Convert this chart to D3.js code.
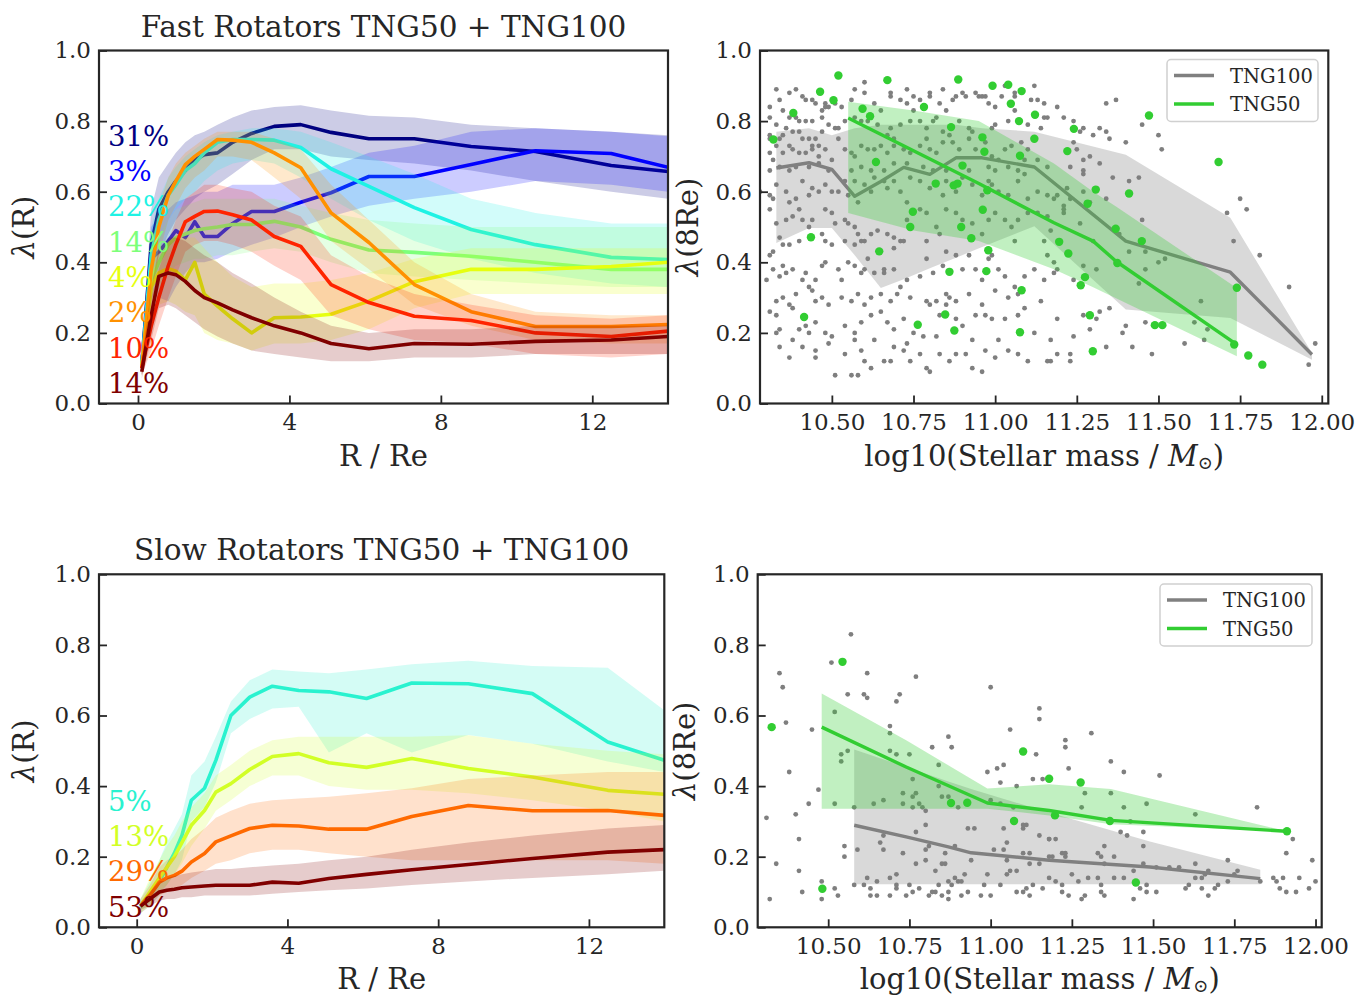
<!DOCTYPE html>
<html>
<head>
<meta charset="utf-8">
<title>Fast and Slow Rotators TNG50 + TNG100</title>
<script src="https://cdn.jsdelivr.net/npm/d3@7"></script>
<style>
  body { margin: 0; background: #fff; }
  text { font-family: "DejaVu Serif", serif; fill: #262626; }
</style>
</head>
<body>
<script>
// ---------- data: lambda(R) profiles, fast rotators ----------
var rFast = [0.1, 0.35, 0.55, 0.8, 1.0, 1.25, 1.5, 1.75, 2.1, 2.5, 3.0, 3.6, 4.3, 5.1, 6.1, 7.3, 8.8, 10.5, 12.5, 14.0];
var fastLabels = ["31%", "3%", "22%", "14%", "4%", "2%", "10%", "14%"];
var fastColors = ["#000080", "#0000ff", "#1ff2e4", "#7dff7a", "#e6ff10", "#ff9100", "#ff2400", "#800000"];

var navyMed = [0.11,0.45,0.55,0.60,0.63,0.66,0.69,0.705,0.71,0.74,0.765,0.785,0.79,0.768,0.75,0.75,0.728,0.714,0.674,0.657];
var navyLo  = [0.08,0.33,0.42,0.48,0.52,0.55,0.58,0.60,0.62,0.65,0.69,0.72,0.72,0.70,0.69,0.68,0.66,0.63,0.60,0.58];
var navyHi  = [0.15,0.55,0.64,0.68,0.71,0.74,0.76,0.77,0.79,0.81,0.83,0.84,0.845,0.83,0.815,0.81,0.79,0.78,0.77,0.76];

var blueMed = [0.11,0.41,0.43,0.46,0.49,0.47,0.515,0.473,0.473,0.51,0.544,0.544,0.57,0.597,0.643,0.643,0.677,0.716,0.708,0.669];
var blueLo  = [0.08,0.30,0.30,0.29,0.33,0.37,0.40,0.40,0.41,0.43,0.45,0.47,0.50,0.53,0.56,0.58,0.60,0.63,0.62,0.60];
var blueHi  = [0.15,0.50,0.53,0.55,0.57,0.58,0.59,0.60,0.60,0.62,0.62,0.62,0.64,0.67,0.71,0.73,0.77,0.78,0.77,0.757];

var cyanMed = [0.11,0.42,0.52,0.59,0.62,0.66,0.68,0.71,0.74,0.748,0.748,0.746,0.725,0.665,0.615,0.555,0.493,0.45,0.414,0.408];
var cyanLo  = [0.09,0.34,0.44,0.52,0.55,0.58,0.60,0.63,0.66,0.68,0.69,0.68,0.64,0.58,0.52,0.46,0.41,0.37,0.34,0.33];
var cyanHi  = [0.14,0.50,0.58,0.64,0.67,0.70,0.72,0.74,0.76,0.77,0.78,0.78,0.77,0.74,0.70,0.65,0.58,0.54,0.51,0.51];

var lgreenMed = [0.11,0.35,0.40,0.45,0.47,0.48,0.49,0.495,0.50,0.507,0.507,0.516,0.50,0.465,0.435,0.428,0.417,0.40,0.38,0.38];
var lgreenLo  = [0.08,0.28,0.33,0.37,0.39,0.40,0.41,0.41,0.42,0.42,0.43,0.44,0.43,0.40,0.37,0.36,0.35,0.34,0.33,0.33];
var lgreenHi  = [0.14,0.42,0.47,0.52,0.55,0.56,0.57,0.58,0.58,0.58,0.58,0.58,0.56,0.54,0.52,0.51,0.50,0.50,0.50,0.50];

var yellowMed = [0.10,0.33,0.37,0.382,0.375,0.35,0.40,0.31,0.276,0.24,0.20,0.243,0.245,0.253,0.29,0.345,0.38,0.38,0.388,0.40];
var yellowLo  = [0.08,0.25,0.28,0.29,0.28,0.26,0.25,0.20,0.18,0.17,0.15,0.17,0.17,0.18,0.21,0.27,0.31,0.31,0.31,0.31];
var yellowHi  = [0.13,0.40,0.44,0.46,0.47,0.47,0.47,0.44,0.40,0.36,0.33,0.34,0.34,0.35,0.37,0.41,0.44,0.44,0.44,0.44];

var orangeMed = [0.10,0.38,0.50,0.59,0.63,0.677,0.70,0.72,0.748,0.746,0.74,0.71,0.668,0.54,0.456,0.337,0.26,0.218,0.218,0.224];
var orangeLo  = [0.08,0.30,0.42,0.52,0.56,0.61,0.64,0.66,0.70,0.70,0.69,0.64,0.58,0.46,0.38,0.28,0.22,0.18,0.17,0.17];
var orangeHi  = [0.13,0.45,0.56,0.64,0.68,0.71,0.73,0.75,0.77,0.77,0.77,0.75,0.72,0.62,0.52,0.40,0.31,0.26,0.25,0.25];

var redMed = [0.10,0.22,0.30,0.39,0.45,0.515,0.53,0.544,0.545,0.535,0.52,0.473,0.445,0.337,0.286,0.247,0.235,0.20,0.19,0.205];
var redLo  = [0.08,0.15,0.22,0.30,0.36,0.43,0.45,0.46,0.46,0.45,0.43,0.39,0.35,0.25,0.21,0.18,0.17,0.14,0.13,0.14];
var redHi  = [0.13,0.30,0.38,0.46,0.52,0.58,0.60,0.62,0.62,0.61,0.60,0.56,0.53,0.42,0.36,0.31,0.28,0.25,0.24,0.25];

var maroonMed = [0.09,0.25,0.36,0.37,0.365,0.346,0.32,0.30,0.285,0.265,0.243,0.22,0.20,0.17,0.155,0.17,0.168,0.176,0.18,0.19];
var maroonLo  = [0.07,0.18,0.27,0.28,0.27,0.25,0.23,0.21,0.19,0.17,0.15,0.14,0.13,0.12,0.12,0.13,0.13,0.14,0.14,0.14];
var maroonHi  = [0.12,0.33,0.44,0.47,0.47,0.46,0.44,0.42,0.40,0.37,0.34,0.30,0.26,0.22,0.20,0.21,0.21,0.22,0.22,0.22];

// ---------- data: lambda(R) profiles, slow rotators ----------
var rSlow = [0.1, 0.35, 0.6, 0.8, 1.0, 1.2, 1.45, 1.8, 2.1, 2.5, 3.0, 3.6, 4.3, 5.1, 6.1, 7.3, 8.8, 10.5, 12.5, 14.0];
var slowLabels = ["5%", "13%", "29%", "53%"];
var slowColors = ["#29f2cf", "#d2ff26", "#ff6a00", "#800000"];

var turqMed = [0.057,0.09,0.13,0.17,0.21,0.26,0.36,0.394,0.473,0.60,0.652,0.683,0.671,0.667,0.648,0.692,0.69,0.662,0.525,0.473];
var turqLo  = [0.04,0.06,0.09,0.12,0.15,0.19,0.30,0.34,0.41,0.55,0.59,0.62,0.625,0.495,0.55,0.495,0.545,0.52,0.47,0.44];
var turqHi  = [0.08,0.13,0.19,0.24,0.28,0.32,0.43,0.47,0.54,0.64,0.70,0.73,0.725,0.72,0.73,0.745,0.755,0.74,0.735,0.615];

var ygMed = [0.06,0.10,0.14,0.17,0.20,0.24,0.289,0.331,0.383,0.407,0.447,0.484,0.492,0.466,0.453,0.478,0.45,0.426,0.388,0.377];
var ygLo  = [0.04,0.07,0.10,0.12,0.15,0.18,0.23,0.28,0.33,0.36,0.40,0.43,0.43,0.40,0.39,0.39,0.38,0.36,0.33,0.30];
var ygHi  = [0.08,0.14,0.19,0.23,0.26,0.30,0.34,0.38,0.43,0.46,0.50,0.53,0.54,0.54,0.54,0.54,0.544,0.52,0.50,0.49];

var dorangeMed = [0.06,0.09,0.128,0.14,0.147,0.159,0.185,0.209,0.242,0.259,0.28,0.289,0.287,0.278,0.278,0.314,0.345,0.33,0.331,0.317];
var dorangeLo  = [0.04,0.06,0.09,0.10,0.11,0.12,0.14,0.16,0.18,0.19,0.21,0.22,0.22,0.21,0.20,0.19,0.19,0.19,0.19,0.18];
var dorangeHi  = [0.08,0.12,0.17,0.19,0.20,0.22,0.25,0.28,0.31,0.33,0.35,0.36,0.365,0.37,0.38,0.394,0.42,0.43,0.44,0.44];

var dmaroonMed = [0.06,0.08,0.10,0.105,0.108,0.112,0.114,0.117,0.119,0.119,0.119,0.128,0.125,0.138,0.15,0.163,0.178,0.195,0.213,0.22];
var dmaroonLo  = [0.05,0.06,0.075,0.08,0.08,0.085,0.085,0.09,0.09,0.09,0.09,0.095,0.10,0.105,0.11,0.12,0.13,0.14,0.15,0.16];
var dmaroonHi  = [0.07,0.10,0.13,0.14,0.145,0.15,0.155,0.16,0.165,0.165,0.17,0.175,0.18,0.19,0.20,0.22,0.24,0.26,0.28,0.29];

// ---------- data: lambda(8Re) vs stellar mass, fast rotators ----------
var fastGreyMass = [10.33,10.43,10.50,10.57,10.65,10.72,10.80,10.88,10.96,11.12,11.40,11.72,11.97];
var fastGreyMed  = [0.667,0.682,0.663,0.587,0.629,0.669,0.649,0.696,0.696,0.67,0.46,0.372,0.139];
var fastGreyLo   = [0.455,0.497,0.497,0.42,0.327,0.352,0.383,0.413,0.443,0.502,0.266,0.242,0.124];
var fastGreyHi   = [0.77,0.78,0.76,0.78,0.79,0.79,0.79,0.79,0.78,0.77,0.705,0.526,0.143];

var fastGreenMass = [10.55,10.75,10.95,11.18,11.30,11.37,11.74];
var fastGreenMed  = [0.809,0.716,0.623,0.512,0.46,0.403,0.167];
var fastGreenLo   = [0.54,0.49,0.46,0.38,0.329,0.298,0.134];
var fastGreenHi   = [0.855,0.83,0.80,0.68,0.60,0.558,0.327];

var fastTng50Pts = [[10.52,0.929],[10.67,0.916],[10.887,0.918],[10.464,0.883],[10.505,0.859],[10.992,0.90],[11.04,0.903],[11.081,0.885],[10.382,0.823],[10.594,0.835],[10.617,0.814],[10.782,0.84],[11.048,0.849],[11.122,0.818],[11.073,0.80],[10.321,0.748],[10.865,0.783],[10.961,0.754],[11.12,0.75],[10.967,0.713],[11.076,0.702],[10.635,0.684],[10.90,0.674],[10.818,0.623],[10.873,0.618],[10.885,0.623],[10.976,0.604],[10.748,0.543],[10.962,0.549],[10.74,0.50],[10.896,0.50],[10.927,0.468],[10.436,0.471],[10.645,0.431],[10.979,0.434],[10.86,0.373],[10.973,0.375],[11.081,0.321],[10.847,0.252],[10.415,0.245],[10.763,0.223],[10.875,0.207],[11.076,0.202],[11.471,0.816],[11.241,0.778],[11.221,0.715],[11.684,0.684],[11.308,0.606],[11.41,0.595],[11.283,0.566],[11.369,0.495],[11.449,0.46],[11.196,0.458],[11.224,0.425],[11.374,0.398],[11.275,0.358],[11.262,0.335],[11.74,0.328],[11.29,0.25],[11.489,0.222],[11.512,0.222],[11.299,0.148],[11.732,0.167],[11.775,0.136],[11.818,0.11]];

var fastTng100Pts = [
[10.33,0.89],[10.37,0.88],[10.39,0.89],[10.41,0.87],[10.42,0.86],[10.44,0.86],[10.45,0.85],[10.48,0.85],[10.48,0.84],[10.49,0.84],[10.51,0.85],[10.53,0.84],[10.56,0.86],[10.57,0.89],[10.60,0.88],[10.60,0.91],[10.63,0.85],[10.65,0.83],[10.68,0.88],[10.68,0.87],[10.71,0.86],[10.73,0.89],[10.73,0.85],[10.75,0.87],[10.75,0.83],[10.77,0.86],[10.80,0.88],[10.80,0.87],[10.83,0.85],[10.84,0.89],[10.85,0.83],[10.87,0.86],[10.88,0.87],[10.90,0.88],[10.91,0.87],[10.94,0.88],[10.95,0.87],[10.96,0.87],[10.97,0.87],[10.98,0.85],[11.00,0.84],[11.02,0.87],[11.03,0.90],[11.06,0.88],[11.06,0.87],[11.11,0.86],[11.12,0.90],[11.13,0.86],[11.15,0.85],[11.15,0.81],[10.31,0.84],[10.31,0.81],[10.34,0.86],[10.35,0.83],[10.37,0.81],[10.39,0.81],[10.40,0.80],[10.42,0.80],[10.44,0.80],
[10.47,0.83],[10.47,0.81],[10.49,0.79],[10.51,0.78],[10.52,0.78],[10.47,0.77],[10.45,0.75],[10.43,0.75],[10.41,0.75],[10.40,0.77],[10.38,0.77],[10.36,0.78],[10.35,0.76],[10.34,0.75],[10.31,0.76],[10.31,0.75],[10.33,0.79],[10.54,0.80],[10.57,0.81],[10.59,0.80],[10.61,0.80],[10.64,0.79],[10.67,0.76],[10.68,0.78],[10.69,0.75],[10.71,0.79],[10.74,0.80],[10.77,0.80],[10.79,0.78],[10.81,0.80],[10.82,0.81],[10.84,0.77],[10.86,0.76],[10.89,0.80],[10.92,0.78],[10.93,0.77],[10.99,0.78],[11.00,0.79],[11.04,0.80],[11.06,0.83],[11.10,0.79],[11.14,0.78],[11.16,0.81],
[10.31,0.71],[10.32,0.69],[10.33,0.73],[10.35,0.71],[10.37,0.73],[10.38,0.72],[10.40,0.71],[10.42,0.71],[10.44,0.72],[10.46,0.70],[10.48,0.72],[10.50,0.69],[10.46,0.73],[10.44,0.73],[10.52,0.75],[10.54,0.72],[10.56,0.71],[10.57,0.70],[10.59,0.73],[10.61,0.72],[10.63,0.72],[10.65,0.73],[10.67,0.71],[10.69,0.73],[10.72,0.72],[10.74,0.71],[10.77,0.73],[10.79,0.75],[10.80,0.72],[10.82,0.71],[10.84,0.74],[10.87,0.74],[10.89,0.72],[10.92,0.75],[10.94,0.72],[10.97,0.74],[10.99,0.70],[11.01,0.69],[11.03,0.72],[11.05,0.73],[11.08,0.74],[11.10,0.72],[11.13,0.69],[11.16,0.67],[10.31,0.66],[10.34,0.67],[10.37,0.66],[10.39,0.67],[10.43,0.67],[10.46,0.68],[10.49,0.66],[10.56,0.66],[10.59,0.67],[10.62,0.66],[10.66,0.66],[10.69,0.68],[10.73,0.68],[10.78,0.67],[10.81,0.66],[10.85,0.66],[10.92,0.66],[10.98,0.67],[11.00,0.66],[11.04,0.67],[11.07,0.66],[11.09,0.69],
[10.31,0.59],[10.33,0.62],[10.36,0.60],[10.37,0.57],[10.39,0.58],[10.41,0.63],[10.43,0.59],[10.44,0.61],[10.46,0.60],[10.48,0.62],[10.50,0.60],[10.52,0.60],[10.54,0.63],[10.55,0.59],[10.57,0.63],[10.58,0.57],[10.60,0.62],[10.62,0.60],[10.63,0.64],[10.66,0.63],[10.67,0.61],[10.69,0.63],[10.71,0.60],[10.73,0.57],[10.74,0.64],[10.77,0.63],[10.80,0.61],[10.84,0.59],[10.85,0.63],[10.88,0.60],[10.90,0.64],[10.93,0.62],[10.96,0.59],[10.98,0.63],[10.99,0.62],[11.01,0.60],[11.04,0.59],[11.07,0.63],[11.09,0.65],[11.10,0.58],[11.13,0.60],[11.16,0.59],[10.32,0.58],[10.28,0.60],
[10.31,0.55],[10.33,0.51],[10.34,0.47],[10.36,0.52],[10.38,0.53],[10.40,0.55],[10.41,0.52],[10.43,0.50],[10.44,0.52],[10.48,0.55],[10.50,0.54],[10.51,0.51],[10.54,0.52],[10.55,0.51],[10.57,0.50],[10.58,0.48],[10.59,0.46],[10.62,0.48],[10.64,0.49],[10.67,0.48],[10.69,0.47],[10.71,0.46],[10.73,0.52],[10.77,0.55],[10.79,0.54],[10.82,0.50],[10.83,0.48],[10.85,0.55],[10.88,0.54],[10.90,0.52],[10.93,0.51],[10.96,0.48],[10.98,0.52],[11.00,0.54],[11.03,0.52],[11.05,0.50],[11.07,0.52],[11.10,0.54],[11.13,0.54],[11.16,0.53],[11.17,0.49],[10.31,0.42],[10.32,0.43],[10.35,0.45],[10.37,0.45],[10.40,0.46],[10.47,0.48],[10.48,0.46],[10.50,0.45],[10.54,0.46],[10.57,0.45],[10.60,0.46],[10.69,0.44],[10.72,0.46],[10.79,0.46],[10.85,0.43],[10.92,0.42],[10.99,0.42],[11.06,0.46],[11.15,0.46],
[10.30,0.35],[10.32,0.38],[10.34,0.36],[10.35,0.39],[10.36,0.37],[10.38,0.38],[10.41,0.35],[10.42,0.37],[10.43,0.33],[10.44,0.32],[10.45,0.35],[10.47,0.39],[10.48,0.40],[10.52,0.38],[10.53,0.35],[10.55,0.40],[10.57,0.39],[10.59,0.37],[10.60,0.38],[10.61,0.41],[10.63,0.37],[10.66,0.38],[10.66,0.37],[10.69,0.38],[10.71,0.33],[10.73,0.35],[10.77,0.36],[10.79,0.41],[10.81,0.37],[10.84,0.39],[10.85,0.31],[10.88,0.42],[10.90,0.38],[10.94,0.38],[10.96,0.35],[10.98,0.41],[11.01,0.38],[11.03,0.36],[11.06,0.33],[11.09,0.36],[11.12,0.38],[11.15,0.35],[11.16,0.42],[10.33,0.29],[10.35,0.30],[10.37,0.28],[10.39,0.31],[10.45,0.29],[10.47,0.30],[10.49,0.28],[10.53,0.30],[10.56,0.29],[10.58,0.31],[10.60,0.28],[10.62,0.30],[10.65,0.31],[10.68,0.29],[10.70,0.31],[10.74,0.30],[10.79,0.29],[10.82,0.29],[10.86,0.30],[10.88,0.29],[10.92,0.31],[10.96,0.28],[11.00,0.32],[11.04,0.30],[11.07,0.31],[11.14,0.29],
[10.31,0.26],[10.33,0.25],[10.34,0.21],[10.38,0.27],[10.40,0.21],[10.42,0.22],[10.45,0.23],[10.48,0.20],[10.50,0.19],[10.54,0.22],[10.57,0.20],[10.59,0.23],[10.62,0.25],[10.65,0.26],[10.67,0.23],[10.69,0.21],[10.72,0.24],[10.75,0.20],[10.78,0.19],[10.80,0.28],[10.83,0.25],[10.85,0.28],[10.88,0.24],[10.90,0.22],[10.94,0.25],[10.97,0.25],[10.99,0.24],[11.03,0.24],[11.07,0.25],[11.09,0.27],[11.12,0.20],[10.34,0.16],[10.37,0.13],[10.41,0.16],[10.45,0.15],[10.45,0.13],[10.49,0.17],[10.51,0.08],[10.54,0.14],[10.56,0.08],[10.58,0.08],[10.59,0.15],[10.60,0.12],[10.62,0.10],[10.66,0.12],[10.68,0.12],[10.69,0.16],[10.72,0.15],[10.74,0.12],[10.77,0.14],[10.79,0.10],[10.80,0.09],[10.83,0.14],[10.86,0.12],[10.88,0.14],[10.91,0.14],[10.93,0.10],[10.96,0.09],[10.97,0.15],[11.00,0.13],[11.04,0.15],[11.07,0.14],[11.10,0.12],[11.16,0.12],[10.33,0.20],[10.38,0.18],[10.43,0.20],[10.57,0.18],[10.63,0.18],[10.73,0.17],[10.82,0.19],[10.93,0.18],[11.01,0.18],
[11.34,0.85],[11.37,0.86],[11.19,0.84],[11.21,0.81],[11.24,0.80],[11.26,0.77],[11.27,0.78],[11.30,0.76],[11.32,0.78],[11.34,0.77],[11.35,0.75],[11.40,0.74],[11.45,0.79],[11.50,0.76],[11.51,0.72],[11.24,0.74],[11.25,0.72],[11.27,0.69],[11.29,0.70],[11.32,0.68],[11.23,0.67],[11.27,0.66],[11.27,0.65],[11.36,0.64],[11.41,0.63],[11.44,0.64],[11.34,0.58],[11.22,0.61],[11.23,0.58],[11.21,0.56],[11.21,0.55],[11.21,0.54],[11.18,0.58],[11.19,0.59],[11.27,0.60],[11.28,0.57],[11.29,0.57],[11.26,0.51],[11.38,0.48],[11.45,0.52],[11.18,0.40],[11.18,0.37],[11.19,0.38],[11.24,0.35],[11.27,0.39],[11.31,0.38],[11.41,0.43],[11.46,0.38],[11.46,0.43],[11.44,0.34],[11.50,0.40],[11.52,0.41],[11.30,0.46],[11.35,0.27],[11.32,0.26],[11.27,0.25],[11.31,0.24],[11.29,0.21],[11.40,0.22],[11.39,0.20],[11.46,0.23],[11.34,0.16],[11.42,0.16],[11.48,0.14],[11.24,0.19],[11.19,0.14],[11.23,0.14],[11.23,0.12],[11.17,0.12],[11.58,0.17],[11.61,0.23],[11.63,0.29],[11.64,0.18],[11.65,0.21],[11.71,0.54],[11.75,0.58],[11.77,0.55],[11.73,0.46],[11.81,0.42],[11.90,0.33],[11.98,0.17],[11.96,0.11],[11.19,0.24],[11.17,0.18]
];

// ---------- data: lambda(8Re) vs stellar mass, slow rotators ----------
var slowGreyMass = [10.58,10.74,10.87,10.94,11.18,11.49,11.83];
var slowGreyMed  = [0.289,0.256,0.228,0.211,0.19,0.171,0.138];
var slowGreyLo   = [0.122,0.122,0.122,0.122,0.122,0.122,0.122];
var slowGreyHi   = [0.504,0.454,0.413,0.392,0.325,0.243,0.163];

var slowGreenMass = [10.48,10.74,10.99,11.18,11.37,11.91];
var slowGreenMed  = [0.567,0.454,0.352,0.331,0.303,0.272];
var slowGreenLo   = [0.336,0.336,0.336,0.317,0.292,0.272];
var slowGreenHi   = [0.662,0.53,0.393,0.405,0.392,0.272];

var slowTng50Pts = [[10.326,0.567],[10.544,0.752],[10.482,0.109],[10.878,0.352],[10.928,0.353],[11.072,0.301],[11.10,0.498],[11.18,0.421],[11.198,0.317],[11.277,0.41],[11.367,0.301],[11.447,0.127],[11.912,0.272]];

var slowTng100Pts = [
[10.57,0.83],[10.51,0.75],[10.35,0.72],[10.36,0.68],[10.62,0.72],[10.77,0.71],[11.00,0.68],[10.56,0.66],[10.61,0.66],[10.62,0.65],[10.72,0.66],[10.71,0.64],[10.37,0.58],[10.52,0.61],[10.45,0.56],[11.15,0.62],[11.15,0.59],[10.38,0.44],[10.47,0.39],[10.54,0.47],[10.54,0.49],[10.56,0.50],[10.69,0.57],[10.69,0.55],[10.69,0.50],[10.71,0.49],[10.75,0.49],[10.82,0.51],[10.87,0.54],[10.88,0.51],[10.84,0.46],[10.76,0.42],[11.06,0.56],[10.99,0.44],[11.02,0.45],[11.04,0.46],[11.03,0.41],[11.08,0.40],[11.13,0.42],[11.16,0.42],[11.14,0.49],
[10.44,0.35],[10.52,0.35],[10.58,0.34],[10.64,0.35],[10.67,0.36],[10.73,0.35],[10.73,0.38],[10.76,0.37],[10.77,0.38],[10.78,0.35],[10.79,0.34],[10.80,0.33],[10.76,0.34],[10.80,0.29],[10.77,0.27],[10.84,0.40],[10.85,0.37],[10.87,0.37],[10.90,0.34],[10.93,0.28],[10.95,0.28],[11.00,0.36],[11.03,0.35],[11.07,0.34],[11.04,0.28],[11.05,0.24],[11.10,0.29],[11.11,0.29],[11.10,0.28],[11.15,0.26],[11.18,0.25],[11.18,0.20],
[10.31,0.31],[10.40,0.32],[10.41,0.25],[10.34,0.18],[10.41,0.16],[10.32,0.08],[10.42,0.10],[10.48,0.13],[10.48,0.08],[10.52,0.11],[10.53,0.09],[10.55,0.23],[10.55,0.20],[10.59,0.22],[10.58,0.12],[10.61,0.12],[10.62,0.14],[10.63,0.11],[10.63,0.09],[10.65,0.09],[10.65,0.13],[10.66,0.24],[10.67,0.22],[10.67,0.26],[10.69,0.14],[10.69,0.09],[10.71,0.12],[10.71,0.15],[10.71,0.11],[10.73,0.21],[10.74,0.09],[10.75,0.12],[10.76,0.10],[10.77,0.18],[10.78,0.11],[10.80,0.22],[10.80,0.19],[10.81,0.09],[10.81,0.23],[10.82,0.10],[10.83,0.10],[10.83,0.16],[10.84,0.12],[10.85,0.18],[10.85,0.09],[10.86,0.18],[10.86,0.21],[10.87,0.13],[10.87,0.10],[10.87,0.08],[10.88,0.12],[10.89,0.23],[10.89,0.14],[10.90,0.13],[10.91,0.13],[10.91,0.09],[10.92,0.15],[10.93,0.10],[10.94,0.19],[10.98,0.12],[10.97,0.09],[10.99,0.15],[11.00,0.09],[11.01,0.22],[11.03,0.12],[11.04,0.22],[11.05,0.19],[11.05,0.15],[11.06,0.16],[11.08,0.16],[11.08,0.10],[11.10,0.10],[11.10,0.21],[11.11,0.11],[11.12,0.09],[11.12,0.21],[11.12,0.18],[11.13,0.12],[11.15,0.18],[11.16,0.11],[11.18,0.14],[11.19,0.20],
[11.31,0.55],[11.23,0.53],[11.23,0.51],[11.24,0.45],[11.37,0.47],[11.41,0.44],[11.52,0.43],[11.37,0.38],[11.29,0.38],[11.28,0.34],[11.41,0.34],[11.48,0.35],[11.63,0.32],[11.82,0.34],[11.40,0.27],[11.42,0.26],[11.47,0.27],[11.47,0.23],[11.43,0.30],[11.18,0.25],[11.20,0.25],[11.22,0.21],[11.23,0.21],[11.23,0.20],[11.33,0.21],[11.34,0.20],[11.35,0.18],[11.35,0.23],[11.38,0.20],[11.47,0.18],[11.51,0.17],[11.55,0.17],[11.58,0.17],[11.63,0.18],[11.67,0.16],[11.73,0.19],[11.76,0.16],[11.25,0.15],[11.30,0.14],[11.33,0.14],[11.38,0.14],[11.41,0.14],[11.44,0.16],[11.20,0.13],[11.27,0.13],[11.34,0.12],[11.22,0.12],[11.22,0.10],[11.24,0.09],[11.34,0.10],[11.35,0.09],[11.28,0.08],[11.29,0.09],[11.44,0.08],[11.46,0.11],[11.48,0.12],[11.48,0.10],[11.51,0.10],[11.60,0.11],[11.61,0.12],[11.65,0.14],[11.65,0.11],[11.67,0.09],[11.69,0.11],[11.70,0.12],[11.66,0.15],[11.63,0.14],[11.75,0.15],[11.73,0.13],[11.83,0.13],[11.87,0.14],[11.88,0.13],[11.89,0.11],[11.91,0.10],[11.90,0.14],[11.94,0.10],[11.95,0.14],[11.98,0.11],[11.99,0.19],[12.00,0.13],[11.93,0.25],[11.91,0.21]
];

var yTicks = [0, 0.2, 0.4, 0.6, 0.8, 1.0];
var rTicks = [0, 4, 8, 12];
var massTicks = [10.5, 10.75, 11.0, 11.25, 11.5, 11.75, 12.0];

// ---------- drawing ----------
var svg = d3.select("body").append("svg").attr("width", 1359).attr("height", 996);
var frameColor = "#262626";
var clipCount = 0;

function makePanel(box, xDom) {
  var x = d3.scaleLinear().domain(xDom).range([box.left, box.right]);
  var y = d3.scaleLinear().domain([0, 1]).range([box.bottom, box.top]);
  var id = "clip" + (clipCount++);
  svg.append("clipPath").attr("id", id).append("rect")
    .attr("x", box.left).attr("y", box.top)
    .attr("width", box.right - box.left).attr("height", box.bottom - box.top);
  var g = svg.append("g");
  var plot = g.append("g").attr("clip-path", "url(#" + id + ")");
  return {x: x, y: y, g: g, plot: plot, box: box};
}

function drawAxes(p, xTicks, xFmt) {
  var xa = d3.axisBottom(p.x).tickValues(xTicks).tickFormat(xFmt).tickSize(-8).tickPadding(10);
  var ya = d3.axisLeft(p.y).tickValues(yTicks).tickFormat(d3.format(".1f")).tickSize(-8).tickPadding(8);
  var gx = p.g.append("g").attr("transform", "translate(0," + p.box.bottom + ")").call(xa);
  var gy = p.g.append("g").attr("transform", "translate(" + p.box.left + ",0)").call(ya);
  [gx, gy].forEach(function(a) {
    a.select(".domain").remove();
    a.selectAll("line").attr("stroke", frameColor).attr("stroke-width", 1.8);
    a.selectAll("text").style("font-size", "23px").attr("fill", frameColor);
  });
  p.g.append("rect")
    .attr("x", p.box.left).attr("y", p.box.top)
    .attr("width", p.box.right - p.box.left).attr("height", p.box.bottom - p.box.top)
    .attr("fill", "none").attr("stroke", frameColor).attr("stroke-width", 2.2);
}

function xLabel(p, parts) {
  var t = p.g.append("text")
    .attr("x", (p.box.left + p.box.right) / 2).attr("y", p.box.bottom + 62)
    .attr("text-anchor", "middle").style("font-size", "29px");
  parts(t);
}

function yLabel(p, xPos, txt) {
  var t = p.g.append("text")
    .attr("transform", "translate(" + xPos + "," + ((p.box.top + p.box.bottom) / 2) + ") rotate(-90)")
    .attr("text-anchor", "middle").style("font-size", "29px");
  t.append("tspan").style("font-style", "italic").text("\u03bb");
  t.append("tspan").text(txt);
}

function title(p, txt) {
  p.g.append("text")
    .attr("x", (p.box.left + p.box.right) / 2).attr("y", p.box.top - 14)
    .attr("text-anchor", "middle").style("font-size", "29.5px").text(txt);
}

function profilePanel(p, rGrid, series) {
  series.forEach(function(s) {
    var rows = rGrid.map(function(r, i) { return {r: r, m: s.med[i], lo: s.lo[i], hi: s.hi[i]}; });
    p.plot.append("path").datum(rows)
      .attr("d", d3.area().x(function(d) { return p.x(d.r); }).y0(function(d) { return p.y(d.lo); }).y1(function(d) { return p.y(d.hi); }))
      .attr("fill", s.color).attr("fill-opacity", 0.2);
    p.plot.append("path").datum(rows)
      .attr("d", d3.line().x(function(d) { return p.x(d.r); }).y(function(d) { return p.y(d.m); }))
      .attr("fill", "none").attr("stroke", s.color).attr("stroke-width", 3.6).attr("stroke-linejoin", "round");
  });
  var n = series.length;
  series.forEach(function(s, k) {
    p.g.append("text")
      .attr("x", p.box.left + 9).attr("y", p.y(0.03 + 0.1 * (n - 1 - k)))
      .style("font-size", "27.5px").style("fill", s.color)
      .text(s.label);
  });
}

function massPanel(p, grey, green, greyPts, greenPts, legendBox) {
  p.plot.selectAll("circle.tng100").data(greyPts).enter().append("circle")
    .attr("cx", function(d) { return p.x(d[0]); }).attr("cy", function(d) { return p.y(d[1]); })
    .attr("r", 2.4).attr("fill", "#7f7f7f");
  [grey, green].forEach(function(s, idx) {
    var rows = s.mass.map(function(m, i) { return {m: m, v: s.med[i], lo: s.lo[i], hi: s.hi[i]}; });
    if (idx === 1) {
      p.plot.selectAll("circle.tng50").data(greenPts).enter().append("circle")
        .attr("cx", function(d) { return p.x(d[0]); }).attr("cy", function(d) { return p.y(d[1]); })
        .attr("r", 4.2).attr("fill", s.color);
    }
    p.plot.append("path").datum(rows)
      .attr("d", d3.area().x(function(d) { return p.x(d.m); }).y0(function(d) { return p.y(d.lo); }).y1(function(d) { return p.y(d.hi); }))
      .attr("fill", s.color).attr("fill-opacity", 0.3);
    p.plot.append("path").datum(rows)
      .attr("d", d3.line().x(function(d) { return p.x(d.m); }).y(function(d) { return p.y(d.v); }))
      .attr("fill", "none").attr("stroke", s.color).attr("stroke-width", 3.4).attr("stroke-linejoin", "round");
  });
  // legend
  var lg = p.g.append("g");
  lg.append("rect").attr("x", legendBox.x).attr("y", legendBox.y)
    .attr("width", legendBox.w).attr("height", legendBox.h).attr("rx", 4)
    .attr("fill", "#fff").attr("fill-opacity", 0.8).attr("stroke", "#d0d0d0").attr("stroke-width", 1.5);
  [grey, green].forEach(function(s, i) {
    var yy = legendBox.y + 16 + i * 28.5;
    lg.append("line").attr("x1", legendBox.x + 7).attr("x2", legendBox.x + 47)
      .attr("y1", yy).attr("y2", yy).attr("stroke", s.color).attr("stroke-width", 3.4);
    lg.append("text").attr("x", legendBox.x + 63).attr("y", yy + 7).style("font-size", "19.5px").text(s.name);
  });
}

function massLabel(t) {
  t.append("tspan").text("log10(Stellar mass / ");
  t.append("tspan").style("font-style", "italic").text("M");
  t.append("tspan").attr("dy", 3).style("font-size", "18px").text("\u2299");
  t.append("tspan").attr("dy", -3).text(")");
}

// panel 1: fast rotator profiles
var p1 = makePanel({left: 99, right: 668, top: 50.5, bottom: 403.5}, [-1.03, 14.0]);
profilePanel(p1, rFast, [
  {label: fastLabels[0], color: fastColors[0], med: navyMed, lo: navyLo, hi: navyHi},
  {label: fastLabels[1], color: fastColors[1], med: blueMed, lo: blueLo, hi: blueHi},
  {label: fastLabels[2], color: fastColors[2], med: cyanMed, lo: cyanLo, hi: cyanHi},
  {label: fastLabels[3], color: fastColors[3], med: lgreenMed, lo: lgreenLo, hi: lgreenHi},
  {label: fastLabels[4], color: fastColors[4], med: yellowMed, lo: yellowLo, hi: yellowHi},
  {label: fastLabels[5], color: fastColors[5], med: orangeMed, lo: orangeLo, hi: orangeHi},
  {label: fastLabels[6], color: fastColors[6], med: redMed, lo: redLo, hi: redHi},
  {label: fastLabels[7], color: fastColors[7], med: maroonMed, lo: maroonLo, hi: maroonHi}
]);
drawAxes(p1, rTicks, d3.format("d"));
title(p1, "Fast Rotators TNG50 + TNG100");
xLabel(p1, function(t) { t.text("R / Re"); });
yLabel(p1, 34, "(R)");

// panel 2: fast rotators lambda(8Re) vs mass
var p2 = makePanel({left: 760, right: 1328.3, top: 50.5, bottom: 403.5}, [10.28, 12.02]);
massPanel(p2,
  {name: "TNG100", color: "#808080", mass: fastGreyMass, med: fastGreyMed, lo: fastGreyLo, hi: fastGreyHi},
  {name: "TNG50", color: "#32cd32", mass: fastGreenMass, med: fastGreenMed, lo: fastGreenLo, hi: fastGreenHi},
  fastTng100Pts, fastTng50Pts, {x: 1167, y: 59.5, w: 151, h: 62});
drawAxes(p2, massTicks, d3.format(".2f"));
xLabel(p2, massLabel);
yLabel(p2, 698, "(8Re)");

// panel 3: slow rotator profiles
var p3 = makePanel({left: 99, right: 664.3, top: 574.3, bottom: 927.3}, [-1.0, 14.0]);
profilePanel(p3, rSlow, [
  {label: slowLabels[0], color: slowColors[0], med: turqMed, lo: turqLo, hi: turqHi},
  {label: slowLabels[1], color: slowColors[1], med: ygMed, lo: ygLo, hi: ygHi},
  {label: slowLabels[2], color: slowColors[2], med: dorangeMed, lo: dorangeLo, hi: dorangeHi},
  {label: slowLabels[3], color: slowColors[3], med: dmaroonMed, lo: dmaroonLo, hi: dmaroonHi}
]);
drawAxes(p3, rTicks, d3.format("d"));
title(p3, "Slow Rotators TNG50 + TNG100");
xLabel(p3, function(t) { t.text("R / Re"); });
yLabel(p3, 34, "(R)");

// panel 4: slow rotators lambda(8Re) vs mass
var p4 = makePanel({left: 757.7, right: 1321.7, top: 574.3, bottom: 927.3}, [10.283, 12.019]);
massPanel(p4,
  {name: "TNG100", color: "#808080", mass: slowGreyMass, med: slowGreyMed, lo: slowGreyLo, hi: slowGreyHi},
  {name: "TNG50", color: "#32cd32", mass: slowGreenMass, med: slowGreenMed, lo: slowGreenLo, hi: slowGreenHi},
  slowTng100Pts, slowTng50Pts, {x: 1160, y: 584, w: 152, h: 62});
drawAxes(p4, massTicks, d3.format(".2f"));
xLabel(p4, massLabel);
yLabel(p4, 695, "(8Re)");
</script>
</body>
</html>
